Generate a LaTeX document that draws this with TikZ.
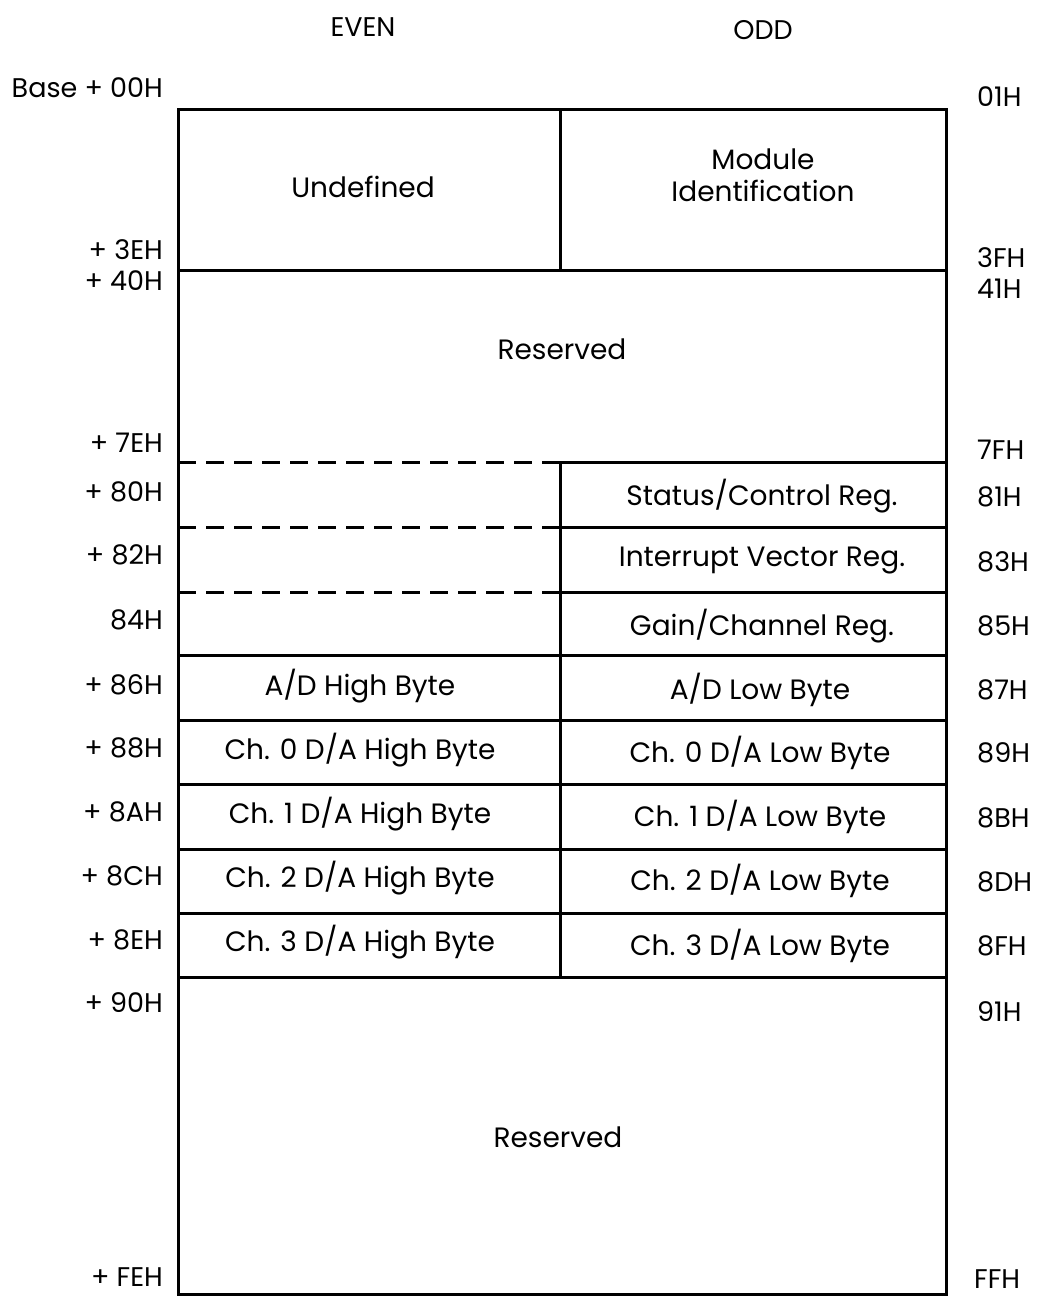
\documentclass[tikz,border=0pt]{standalone}
\usepackage{fontspec}
\setmainfont{Poppins}
\begin{document}
\begin{tikzpicture}[x=1pt,y=-1pt,
  frame/.style={line width=3pt, line cap=rect},
  dash line/.style={line width=3pt, dash pattern=on 18pt off 10pt},
  cell/.style={font=\fontsize{28}{32}\selectfont, align=center, inner sep=0pt},
  lab/.style={font=\fontsize{27}{31}\selectfont, inner sep=0pt},
  leftlab/.style={lab, anchor=east},
  rightlab/.style={lab, anchor=west}]
\useasboundingbox (0,0) rectangle (1037,1298);
% geometry
\def\xl{178}\def\xm{560}\def\xr{946}
% outer frame
\draw[frame] (\xl,1294) -- (\xl,109) -- (\xr,109) -- (\xr,1294);
\draw[frame] (\xl,1294) -- (\xr,1294);
% horizontal lines
\draw[frame] (\xl,270) -- (\xr,270);
\draw[frame] (\xm,109) -- (\xm,270);
\draw[frame] (\xm,462) -- (\xm,977);
\foreach \y in {462,527,592} {
  \draw[dash line] (\xl,\y) -- (\xm,\y);
  \draw[frame] (\xm,\y) -- (\xr,\y);
}
\foreach \y in {655,720,784,849,913,977} {
  \draw[frame] (\xl,\y) -- (\xr,\y);
}
% headers
\node[lab] (even) at (363,27) {EVEN};
\node[lab] (odd) at (763,30) {ODD};
% cells
\node[cell] (undef) at (363,187) {Undefined};
\node[cell] (modid) at (763,175) {Module\\Identification};
\node[cell] (res1) at (562,349) {Reserved};
\node[cell] (stat) at (762,496) {Status/Control Reg.};
\node[cell] (intv) at (762,561) {Interrupt Vector Reg.};
\node[cell] (gain) at (762,626) {Gain/Channel Reg.};
\node[cell] (adh) at (360,686) {A/D High Byte};
\node[cell] (adl) at (760,690) {A/D Low Byte};
\node[cell] (c0h) at (360,750) {Ch. 0 D/A High Byte};
\node[cell] (c0l) at (760,753) {Ch. 0 D/A Low Byte};
\node[cell] (c1h) at (360,814) {Ch. 1 D/A High Byte};
\node[cell] (c1l) at (760,817) {Ch. 1 D/A Low Byte};
\node[cell] (c2h) at (360,878) {Ch. 2 D/A High Byte};
\node[cell] (c2l) at (760,881) {Ch. 2 D/A Low Byte};
\node[cell] (c3h) at (360,942) {Ch. 3 D/A High Byte};
\node[cell] (c3l) at (760,946) {Ch. 3 D/A Low Byte};
\node[cell] (res2) at (558,1137) {Reserved};
% left labels
\node[leftlab] (l00) at (163,88) {Base + 00H};
\node[leftlab] (l3e) at (163,250) {+ 3EH};
\node[leftlab] (l40) at (163,281) {+ 40H};
\node[leftlab] (l7e) at (163,443) {+ 7EH};
\node[leftlab] (l80) at (163,492) {+ 80H};
\node[leftlab] (l82) at (163,555) {+ 82H};
\node[leftlab] (l84) at (163,620) {84H};
\node[leftlab] (l86) at (163,685) {+ 86H};
\node[leftlab] (l88) at (163,748) {+ 88H};
\node[leftlab] (l8a) at (163,812) {+ 8AH};
\node[leftlab] (l8c) at (163,876) {+ 8CH};
\node[leftlab] (l8e) at (163,940) {+ 8EH};
\node[leftlab] (l90) at (163,1003) {+ 90H};
\node[leftlab] (lfe) at (163,1277) {+ FEH};
% right labels
\node[rightlab] (r01) at (977,97) {01H};
\node[rightlab] (r3f) at (977,258) {3FH};
\node[rightlab] (r41) at (977,289) {41H};
\node[rightlab] (r7f) at (977,450) {7FH};
\node[rightlab] (r81) at (977,497) {81H};
\node[rightlab] (r83) at (977,562) {83H};
\node[rightlab] (r85) at (977,626) {85H};
\node[rightlab] (r87) at (977,690) {87H};
\node[rightlab] (r89) at (977,753) {89H};
\node[rightlab] (r8b) at (977,818) {8BH};
\node[rightlab] (r8d) at (977,882) {8DH};
\node[rightlab] (r8f) at (977,946) {8FH};
\node[rightlab] (r91) at (977,1012) {91H};
\node[rightlab] (rff) at (974,1279) {FFH};
\end{tikzpicture}
\end{document}
